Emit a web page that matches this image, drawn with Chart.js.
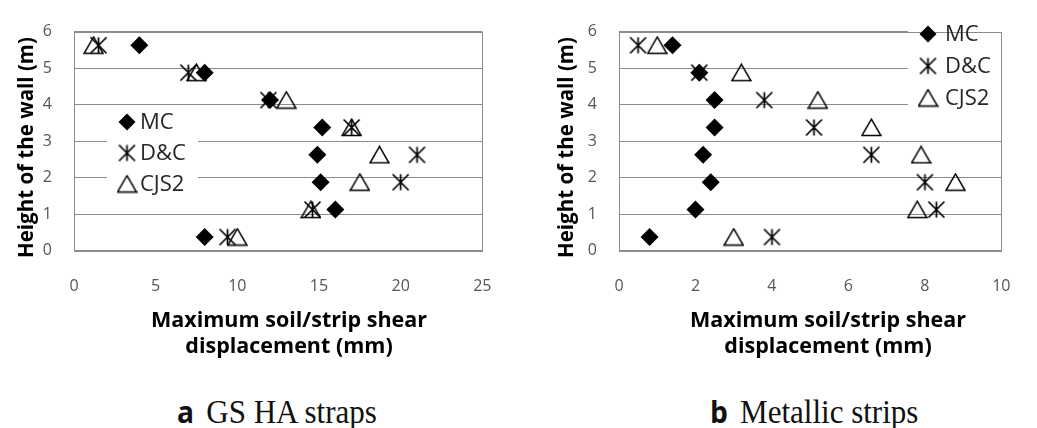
<!DOCTYPE html>
<html>
<head>
<meta charset="utf-8">
<script src="https://cdn.jsdelivr.net/npm/chart.js@4"></script>
<style>
  html, body { margin: 0; padding: 0; background: #fff; }
  #wrap { position: relative; width: 1037px; height: 428px; overflow: hidden; }
  canvas { position: absolute; top: 0; }
  .cap { position: absolute; top: 391px; height: 42px; line-height: 42px; white-space: nowrap; color: #111;
         transform: scaleX(0.94); transform-origin: left center; }
  .cap b { font-family: "Open Sans", sans-serif; font-weight: 700; font-size: 30px; margin-right: 13px; }
  .cap span { font-family: "Liberation Serif", "Times New Roman", serif; font-size: 33px; }
</style>
</head>
<body>
<div id="wrap">
  <canvas id="chartA" width="518" height="370" style="left:0"></canvas>
  <canvas id="chartB" width="519" height="370" style="left:518px"></canvas>
  <div class="cap" style="left:177px"><b>a</b><span>GS HA straps</span></div>
  <div class="cap" style="left:710px"><b>b</b><span>Metallic strips</span></div>
</div>
<script>
// ---- data ----
const heights = [0.375, 1.125, 1.875, 2.625, 3.375, 4.125, 4.875, 5.625];
const seriesNames = ["MC", "D&C", "CJS2"];

// (a) GS HA straps
const mcA = [8.0, 16.0, 15.1, 14.9, 15.2, 12.0, 8.0, 4.0];
const dcA = [9.4, 14.6, 20.0, 21.0, 17.0, 11.9, 7.0, 1.5];
const cjA = [10.0, 14.5, 17.5, 18.7, 17.0, 13.0, 7.5, 1.2];

// (b) Metallic strips
const mcB = [0.8, 2.0, 2.4, 2.2, 2.5, 2.5, 2.1, 1.4];
const dcB = [4.0, 8.3, 8.0, 6.6, 5.1, 3.8, 2.1, 0.5];
const cjB = [3.0, 7.8, 8.8, 7.9, 6.6, 5.2, 3.2, 1.0];

const yTitle = "Height of the wall (m)";
const xTitle = ["Maximum soil/strip shear", "displacement (mm)"];

// ---- marker images ----
function makeStar() {
  const c = document.createElement('canvas');
  c.width = 19; c.height = 19;
  const g = c.getContext('2d');
  g.strokeStyle = '#000'; g.lineWidth = 1.7; g.lineCap = 'butt';
  const m = 9.5, r = 8;
  g.beginPath();
  g.moveTo(m, m - r); g.lineTo(m, m + r);
  g.moveTo(m - r, m - r); g.lineTo(m + r, m + r);
  g.moveTo(m + r, m - r); g.lineTo(m - r, m + r);
  g.stroke();
  return c;
}
function makeTri() {
  const c = document.createElement('canvas');
  c.width = 21; c.height = 19;
  const g = c.getContext('2d');
  g.strokeStyle = '#000'; g.lineWidth = 1.5; g.lineJoin = 'miter';
  g.beginPath();
  g.moveTo(10.5, 1.2); g.lineTo(20, 17.5); g.lineTo(1, 17.5); g.closePath();
  g.stroke();
  return c;
}
const starImg = makeStar();
const triImg = makeTri();

function pts(xs) { return xs.map((x, i) => ({ x: x, y: heights[i] })); }

// ---- custom plugins ----
const framePlugin = {
  id: 'frameLegend',
  beforeDatasetsDraw(chart, args, opts) {
    const ctx = chart.ctx, a = chart.chartArea;
    ctx.save();
    const L = opts.legend;
    ctx.fillStyle = '#fff';
    ctx.fillRect(L.x, L.y, L.w, L.h);
    ctx.strokeStyle = '#8c8c8c'; ctx.lineWidth = 1;
    ctx.strokeRect(Math.round(a.left) + 0.5, Math.round(a.top) + 0.5,
                   Math.round(a.right - a.left), Math.round(a.bottom - a.top));
    ctx.font = '22px "Open Sans", sans-serif';
    ctx.textBaseline = 'middle';
    ctx.textAlign = 'left';
    chart.data.datasets.forEach((ds, i) => {
      const cy = L.y + L.first + i * L.gap;
      const mx = L.x + L.mx;
      if (ds.pointStyle === 'rectRot') {
        ctx.fillStyle = '#000';
        ctx.beginPath();
        const r = 8.5;
        ctx.moveTo(mx, cy - r); ctx.lineTo(mx + r, cy); ctx.lineTo(mx, cy + r); ctx.lineTo(mx - r, cy);
        ctx.closePath(); ctx.fill();
      } else {
        const img = ds.pointStyle;
        ctx.drawImage(img, mx - img.width / 2, cy - img.height / 2);
      }
      ctx.fillStyle = '#262626';
      ctx.fillText(ds.label, L.x + L.tx, cy + 1);
    });
    ctx.restore();
  },
  afterDraw(chart, args, opts) {
    const ctx = chart.ctx;
    ctx.save();
    ctx.fillStyle = '#000';
    ctx.textAlign = 'center';
    ctx.textBaseline = 'middle';
    ctx.font = 'bold 20.5px "Open Sans", sans-serif';
    ctx.save();
    ctx.translate(opts.yTitleX, opts.yTitleY);
    ctx.rotate(-Math.PI / 2);
    ctx.fillText(yTitle, 0, 0);
    ctx.restore();
    ctx.font = 'bold 21.5px "Open Sans", sans-serif';
    xTitle.forEach((t, i) => ctx.fillText(t, opts.xTitleX, opts.xTitleY + i * opts.xGap));
    ctx.restore();
  }
};

function makeChart(id, mc, dc, cj, xMax, xStep, padRight, yWidth, po) {
  const plotTop = 13.7, plotBottom = 250.7, H = 370;
  return new Chart(document.getElementById(id), {
    type: 'scatter',
    data: {
      datasets: [
        { label: seriesNames[0], data: pts(mc), pointStyle: 'rectRot', pointRadius: 9,
          backgroundColor: '#000', borderColor: '#000', borderWidth: 0 },
        { label: seriesNames[1], data: pts(dc), pointStyle: starImg, pointRadius: 8,
          backgroundColor: '#000', borderColor: '#000' },
        { label: seriesNames[2], data: pts(cj), pointStyle: triImg, pointRadius: 10,
          backgroundColor: 'rgba(0,0,0,0)', borderColor: '#000' }
      ]
    },
    options: {
      responsive: false,
      animation: false,
      events: [],
      layout: { padding: { left: 0, right: padRight, top: plotTop, bottom: 0 } },
      plugins: {
        legend: { display: false },
        tooltip: { enabled: false },
        frameLegend: po
      },
      scales: {
        x: {
          type: 'linear', min: 0, max: xMax,
          ticks: { stepSize: xStep, padding: 26.5, color: '#555',
                   font: { family: '"Open Sans", sans-serif', size: 16 } },
          grid: { display: false, drawTicks: false },
          border: { display: false },
          afterFit(s) { s.height = H - plotBottom; }
        },
        y: {
          type: 'linear', min: 0, max: 6,
          ticks: { stepSize: 1, padding: 22, color: '#555',
                   font: { family: '"Open Sans", sans-serif', size: 16 } },
          grid: { color: '#8c8c8c', lineWidth: 1, drawTicks: false },
          border: { display: false },
          afterFit(s) { s.width = yWidth; }
        }
      }
    },
    plugins: [framePlugin]
  });
}

makeChart('chartA', mcA, dcA, cjA, 25, 5, 27, 74, {
  legend: { x: 107, y: 107, w: 91, h: 92, first: 15, gap: 31, mx: 20, tx: 33 },
  yTitleX: 27, yTitleY: 147.5, xTitleX: 289, xTitleY: 321, xGap: 26
});
makeChart('chartB', mcB, dcB, cjB, 10, 2, 16, 101, {
  legend: { x: 390, y: 16, w: 96, h: 98, first: 18, gap: 32, mx: 20, tx: 37 },
  yTitleX: 48.7, yTitleY: 147.5, xTitleX: 310, xTitleY: 321, xGap: 26
});
</script>
</body>
</html>
